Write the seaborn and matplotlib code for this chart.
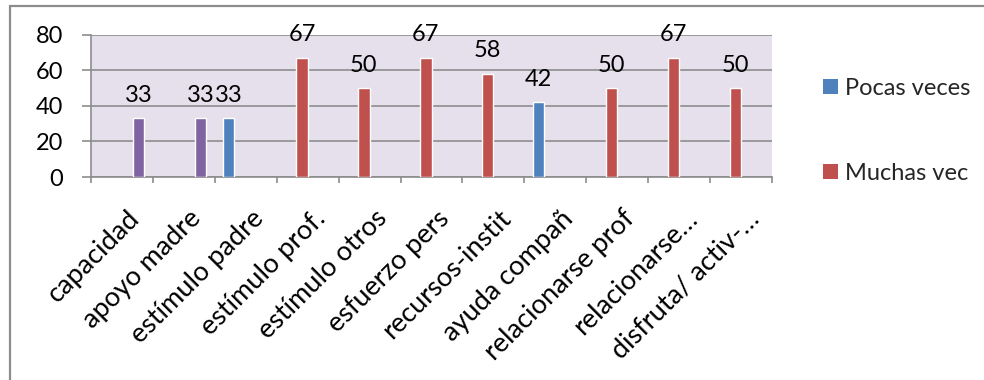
import matplotlib
matplotlib.use("Agg")
import matplotlib.pyplot as plt
import matplotlib.transforms as mtrans
from matplotlib.patches import Rectangle, Patch
import numpy as np
import pandas as pd
import seaborn as sns

nan = np.nan
categories = ["capacidad", "apoyo madre", "estímulo padre", "estímulo prof.",
              "estímulo otros", "esfuerzo pers", "recursos-instit", "ayuda compañ",
              "relacionarse prof", "relacionarse…", "disfruta/ activ-…"]
series_names = ["Pocas veces", "Muchas veces", "Algunas veces", "Siempre"]
pocas = [nan, nan, 33, nan, nan, nan, nan, 42, nan, nan, nan]
muchas = [nan, nan, nan, 67, 50, 67, 58, nan, 50, 67, 50]
algunas = [nan, nan, nan, nan, nan, nan, nan, nan, nan, nan, nan]
siempre = [33, 33, nan, nan, nan, nan, nan, nan, nan, nan, nan]
legend_labels = ["Pocas veces", "Muchas vec"]
y_ticks = [0, 20, 40, 60, 80]

colors = {"Pocas veces": "#4F81BD", "Muchas veces": "#C0504D",
          "Algunas veces": "#9BBB59", "Siempre": "#8064A2"}

rows = []
for name, vals in zip(series_names, [pocas, muchas, algunas, siempre]):
    for cat, v in zip(categories, vals):
        rows.append({"categoria": cat, "serie": name, "valor": v})
df = pd.DataFrame(rows).dropna()

sns.set_style("white")
plt.rcParams["font.family"] = ["Lato", "DejaVu Sans"]

W, H = 984, 380
fig = plt.figure(figsize=(W / 100, H / 100), dpi=100)
L, R, T, B = 90.7, 772.3, 34.7, 177.0
ax = fig.add_axes([L / W, 1 - B / H, (R - L) / W, (B - T) / H])
ax.set_facecolor("#E6E0EC")

sns.barplot(data=df, x="categoria", y="valor", hue="serie", order=categories,
            hue_order=series_names, palette=colors, width=0.727, dodge=True,
            saturation=1, errorbar=None, legend=False, ax=ax, zorder=3)

FS = 17
XFS = 19.5
for c in ax.containers:
    ax.bar_label(c, fmt="%.0f", padding=9, fontsize=FS, color="black", zorder=4)

ax.set_xlim(-0.5, len(categories) - 0.5)
ax.set_ylim(0, 80)
ax.set_yticks(y_ticks)
ax.set_xlabel("")
ax.set_ylabel("")

grid_c = "#8C8C8C"
for y in y_ticks:
    ax.axhline(y, color=grid_c, lw=1.2, zorder=1)
for s in ["top", "right"]:
    ax.spines[s].set_visible(False)
for s in ["left", "bottom"]:
    ax.spines[s].set_color(grid_c)
    ax.spines[s].set_linewidth(1.2)

ax.tick_params(axis="y", length=6.5, width=1.2, color=grid_c, pad=13.5,
               labelsize=FS, labelcolor="black", left=True)
ax.set_xticks(np.arange(len(categories)))
ax.set_xticks(np.arange(-0.5, len(categories)), minor=True)
ax.tick_params(axis="x", which="major", length=0, labelsize=XFS, labelcolor="black")
ax.tick_params(axis="x", which="minor", length=4.5, width=1.2, color=grid_c, bottom=True)
ax.set_xticklabels(categories, rotation=45, ha="right", va="top",
                   rotation_mode="anchor")
off = mtrans.ScaledTranslation(5 / 100, -24 / 100, fig.dpi_scale_trans)
for lab in ax.get_xticklabels():
    lab.set_transform(lab.get_transform() + off)

handles = [Patch(facecolor=colors["Pocas veces"], edgecolor="none"),
           Patch(facecolor=colors["Muchas veces"], edgecolor="none")]
fig.legend(handles, legend_labels, loc="upper left",
           bbox_to_anchor=(823 / W, 1 - 78 / H), frameon=False,
           fontsize=FS, handlelength=0.62, handleheight=0.62,
           handletextpad=0.32, labelspacing=2.7, borderpad=0, borderaxespad=0)

fig.patches.append(Rectangle((9.5 / W, -0.1), 1.1, 1 - 5.5 / H + 0.1,
                             transform=fig.transFigure, fill=False,
                             edgecolor="#8C8C8C", lw=1.6))

fig.savefig("out.png", dpi=100)
